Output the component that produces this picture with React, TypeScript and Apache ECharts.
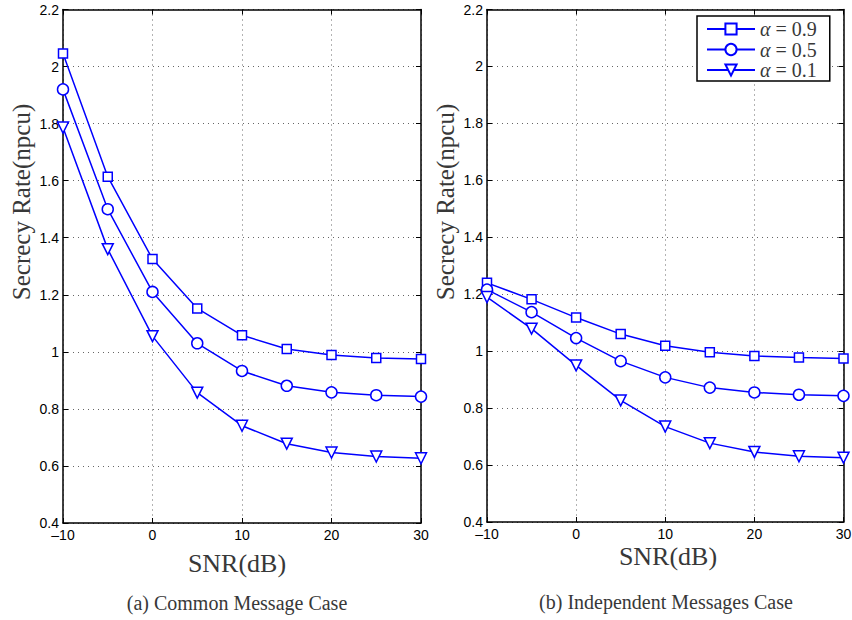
import React, { useEffect, useRef } from "react";
import * as echarts from "echarts";

const snr = [-10, -5, 0, 5, 10, 15, 20, 25, 30];
const seriesNames = ["α = 0.9", "α = 0.5", "α = 0.1"];
const symbols = ["rect", "circle", "triangle"];

// (a) Common Message Case
const commonA09 = [2.046, 1.614, 1.325, 1.152, 1.058, 1.010, 0.989, 0.978, 0.975];
const commonA05 = [1.92, 1.50, 1.21, 1.03, 0.933, 0.881, 0.858, 0.848, 0.843];
const commonA01 = [1.786, 1.36, 1.055, 0.857, 0.741, 0.678, 0.647, 0.633, 0.627];

// (b) Independent Messages Case
const indepA09 = [1.24, 1.182, 1.118, 1.06, 1.019, 0.996, 0.983, 0.978, 0.974];
const indepA05 = [1.216, 1.137, 1.046, 0.965, 0.908, 0.872, 0.855, 0.847, 0.843];
const indepA01 = [1.19, 1.079, 0.95, 0.827, 0.735, 0.677, 0.646, 0.631, 0.626];

const captions = ["(a) Common Message Case", "(b) Independent Messages Case"];
const xTitle = "SNR(dB)";
const yTitle = "Secrecy Rate(npcu)";

const BLUE = "#0000ff";
const SERIF = "'Liberation Serif', 'DejaVu Serif', serif";
const SANS = "'Liberation Sans', Arial, sans-serif";

export default function App() {
  const ref = useRef<HTMLDivElement>(null);
  useEffect(() => {
    document.body.style.margin = "0";
    if (!ref.current) return;
    const chart = echarts.init(ref.current, null, { renderer: "svg" });

    const grids = [
      { left: 63, right: 431, top: 9.5, bottom: 97 },
      { left: 487, right: 8.5, top: 9.5, bottom: 98 },
    ];

    const axisLine = { show: true, onZero: false, lineStyle: { color: "#000", width: 1.5 } };
    const axisTick = { show: true, inside: true, length: 5, lineStyle: { color: "#000" } };

    const xAxes: any[] = [];
    const yAxes: any[] = [];
    grids.forEach((_, gi) => {
      xAxes.push({
        type: "value",
        gridIndex: gi,
        min: -10,
        max: 30,
        interval: 10,
        position: "bottom",
        axisLine,
        axisTick,
        axisLabel: {
          fontFamily: SANS,
          fontSize: 14,
          color: "#000",
          margin: 5,
          formatter: (v: number) => (v < 0 ? "–" + Math.abs(v) : String(v)),
        },
        splitLine: { show: true, lineStyle: { color: "#666", type: [1, 4], width: 1 } },
      });
      xAxes.push({
        type: "value",
        gridIndex: gi,
        min: -10,
        max: 30,
        interval: 10,
        position: "top",
        axisLine,
        axisTick,
        axisLabel: { show: false },
        splitLine: { show: false },
      });
      yAxes.push({
        type: "value",
        gridIndex: gi,
        min: 0.4,
        max: 2.2,
        interval: 0.2,
        position: "left",
        axisLine,
        axisTick,
        axisLabel: {
          fontFamily: SANS,
          fontSize: 14,
          color: "#000",
          margin: 4,
          formatter: (v: number) => String(Math.round(v * 10) / 10),
        },
        splitLine: { show: true, lineStyle: { color: "#666", type: [1, 4], width: 1 } },
      });
      yAxes.push({
        type: "value",
        gridIndex: gi,
        min: 0.4,
        max: 2.2,
        interval: 0.2,
        position: "right",
        axisLine,
        axisTick,
        axisLabel: { show: false },
        splitLine: { show: false },
      });
    });

    const dataSets = [
      [commonA09, commonA05, commonA01],
      [indepA09, indepA05, indepA01],
    ];
    const symbolSizes = [9, 11, 11];

    const series: any[] = [];
    dataSets.forEach((sets, gi) => {
      sets.forEach((vals, si) => {
        series.push({
          type: "line",
          name: seriesNames[si],
          xAxisIndex: gi * 2,
          yAxisIndex: gi * 2,
          data: snr.map((x, i) => [x, vals[i]]),
          symbol: symbols[si],
          symbolRotate: si === 2 ? 180 : 0,
          symbolSize: symbolSizes[si],
          showSymbol: true,
          lineStyle: { color: BLUE, width: 1.5 },
          itemStyle: { color: "#fff", borderColor: BLUE, borderWidth: 1.5 },
          emphasis: { disabled: true },
        });
      });
    });

    const titleStyle = { fontFamily: SERIF, fill: "#383838", textAlign: "center", textVerticalAlign: "middle" };

    chart.setOption({
      animation: false,
      backgroundColor: "#fff",
      grid: grids.map((g) => ({ ...g, show: false, outerBoundsMode: "none", containLabel: false })),
      xAxis: xAxes,
      yAxis: yAxes,
      series,
      legend: {
        data: seriesNames,
        orient: "vertical",
        left: 697,
        top: 16,
        padding: [3, 13, 1, 9],
        itemGap: 0.5,
        itemWidth: 48,
        itemHeight: 14,
        backgroundColor: "#fff",
        borderColor: "#000",
        borderWidth: 1.5,
        borderRadius: 0,
        selectedMode: false,
        formatter: (name: string) => "{a|α}" + name.slice(1),
        textStyle: {
          fontFamily: SERIF,
          fontSize: 20,
          lineHeight: 20,
          color: "#383838",
          rich: { a: { fontFamily: SERIF, fontStyle: "italic", fontSize: 20, lineHeight: 20, color: "#383838" } },
        },
      },
      graphic: [
        { type: "text", x: 237, y: 563, style: { ...titleStyle, text: xTitle, fontSize: 26 } },
        { type: "text", x: 668, y: 556, style: { ...titleStyle, text: xTitle, fontSize: 26 } },
        { type: "text", x: 21, y: 202, rotation: Math.PI / 2, style: { ...titleStyle, text: yTitle, fontSize: 25 } },
        { type: "text", x: 445, y: 202, rotation: Math.PI / 2, style: { ...titleStyle, text: yTitle, fontSize: 25 } },
        { type: "text", x: 237, y: 603, style: { ...titleStyle, text: captions[0], fontSize: 20 } },
        { type: "text", x: 666, y: 602, style: { ...titleStyle, text: captions[1], fontSize: 20 } },
      ],
    });

    return () => chart.dispose();
  }, []);
  return <div ref={ref} style={{ width: 852, height: 620 }} />;
}
